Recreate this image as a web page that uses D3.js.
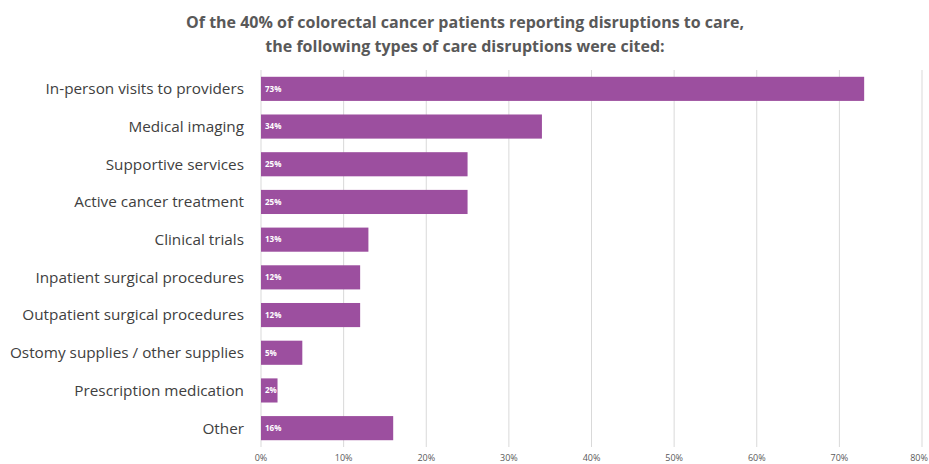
<!DOCTYPE html>
<html>
<head>
<meta charset="utf-8">
<script src="https://cdn.jsdelivr.net/npm/d3@7"></script>
<style>
  body { margin: 0; background: #fff; }
  text { font-family: "Open Sans", "Liberation Sans", sans-serif; }
</style>
</head>
<body>
<div id="chart"></div>
<script>
const width = 929,
    height = 464;

const categories = [
    "In-person visits to providers",
    "Medical imaging",
    "Supportive services",
    "Active cancer treatment",
    "Clinical trials",
    "Inpatient surgical procedures",
    "Outpatient surgical procedures",
    "Ostomy supplies / other supplies",
    "Prescription medication",
    "Other"
];
const values = [73, 34, 25, 25, 13, 12, 12, 5, 2, 16];
const ticks = [0, 10, 20, 30, 40, 50, 60, 70, 80];

const titleLines = [
    "Of the 40% of colorectal cancer patients reporting disruptions to care,",
    "the following types of care disruptions were cited:"
];

const margin = { top: 70, right: 7, bottom: 17, left: 261 };

const svg = d3.select("#chart")
    .append("svg")
    .attr("width", width)
    .attr("height", height);

const x = d3.scaleLinear()
    .domain([0, 80])
    .range([margin.left, width - margin.right]);

const y = d3.scaleBand()
    .domain(categories)
    .range([margin.top, height - margin.bottom])
    .paddingInner(0.36)
    .paddingOuter(0.18);

// gridlines
svg.selectAll(null)
    .data(ticks)
    .join("line")
    .attr("x1", d => x(d))
    .attr("x2", d => x(d))
    .attr("y1", margin.top)
    .attr("y2", height - margin.bottom)
    .attr("stroke", "#d9d9d9")
    .attr("stroke-width", 1);

// x tick labels (last one kept inside the window)
svg.selectAll(null)
    .data(ticks)
    .join("text")
    .attr("x", d => Math.min(x(d), width - 10))
    .attr("y", 461)
    .attr("text-anchor", "middle")
    .style("font-size", "9px")
    .style("fill", "#595959")
    .text(d => d + "%");

// bars
svg.selectAll(null)
    .data(values)
    .join("rect")
    .attr("x", x(0))
    .attr("y", (d, i) => y(categories[i]))
    .attr("width", d => x(d) - x(0))
    .attr("height", y.bandwidth())
    .attr("fill", "#9c4f9f");

// value labels inside bars
svg.selectAll(null)
    .data(values)
    .join("text")
    .attr("x", x(0) + 4)
    .attr("y", (d, i) => y(categories[i]) + y.bandwidth() / 2)
    .attr("dy", "0.35em")
    .style("font-size", "8px")
    .style("font-weight", "bold")
    .style("fill", "#fff")
    .text(d => d + "%");

// category labels
svg.selectAll(null)
    .data(categories)
    .join("text")
    .attr("x", 244)
    .attr("y", d => y(d) + y.bandwidth() / 2)
    .attr("dy", "0.35em")
    .attr("text-anchor", "end")
    .style("font-size", "15.3px")
    .style("fill", "#404040")
    .text(d => d);

// title
svg.selectAll(null)
    .data(titleLines)
    .join("text")
    .attr("x", 465)
    .attr("y", (d, i) => 28 + i * 24)
    .attr("text-anchor", "middle")
    .style("font-size", "16px")
    .style("font-weight", "bold")
    .style("fill", "#595959")
    .text(d => d);
</script>
</body>
</html>
